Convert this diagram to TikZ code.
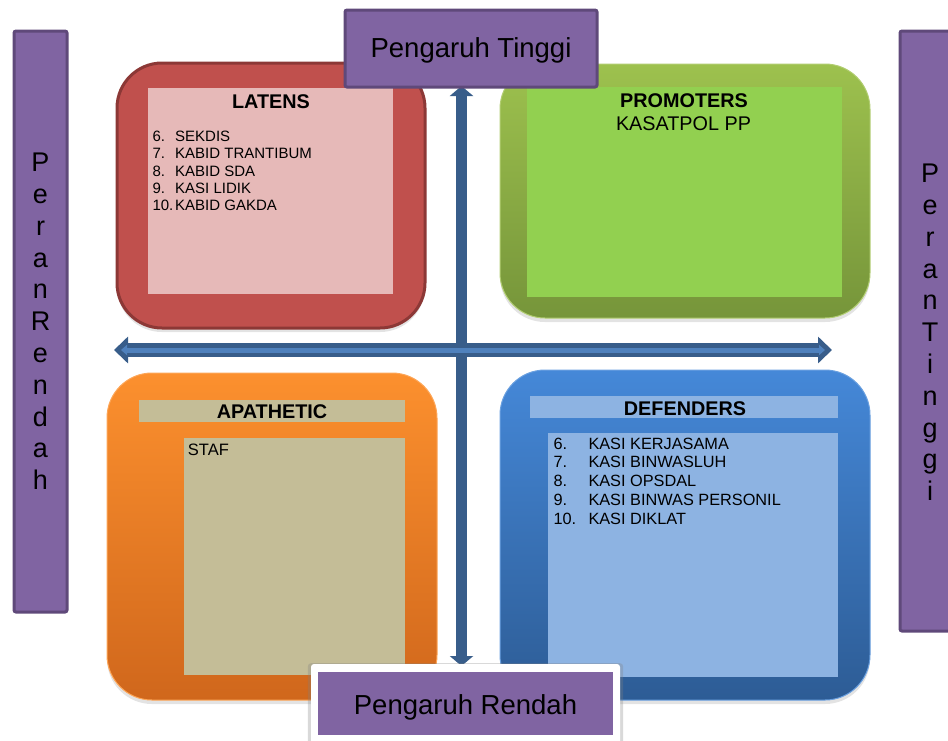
\documentclass[tikz,border=0pt]{standalone}
\usepackage{fontspec}
\setmainfont{Liberation Sans}
\usetikzlibrary{arrows.meta,shadows}
\definecolor{purp}{HTML}{8064A2}
\definecolor{purpdark}{HTML}{5F497A}
\definecolor{redq}{HTML}{C0504D}
\definecolor{reddark}{HTML}{8C3836}
\definecolor{redin}{HTML}{E6B9B8}
\definecolor{greentop}{HTML}{9DC14E}
\definecolor{greenbot}{HTML}{76953A}
\definecolor{greenin}{HTML}{92D050}
\definecolor{orangetop}{HTML}{FC902E}
\definecolor{orangebot}{HTML}{D0671C}
\definecolor{khaki}{HTML}{C4BD97}
\definecolor{bluetop}{HTML}{4588D8}
\definecolor{bluebot}{HTML}{2D5C95}
\definecolor{bluein}{HTML}{8DB3E2}
\definecolor{axisdark}{HTML}{385D8A}
\definecolor{axislight}{HTML}{4F81BD}
\begin{document}
\begin{tikzpicture}[x=1pt,y=-1pt,
  quadbox/.style={rounded corners=45pt, inner sep=0pt,
    drop shadow={opacity=0.22, shadow xshift=0pt, shadow yshift=-4pt}},
  panel/.style={inner sep=0pt},
  titletext/.style={font=\fontsize{19.8}{22}\selectfont\bfseries, inner sep=0pt, anchor=base},
  listtext/.style={inner sep=0pt, anchor=north west, align=left},
  labelbox/.style={fill=purp, draw=purpdark, line width=3pt, rounded corners=2pt, inner sep=0pt},
  bigtext/.style={font=\fontsize{27.5}{32}\selectfont, inner sep=0pt, anchor=base},
  sidetext/.style={font=\fontsize{27}{31.8}\selectfont, inner sep=0pt, anchor=north, align=center}
]
\useasboundingbox (0,0) rectangle (948,740);

% ---------- quadrants ----------
% LATENS
\node[quadbox, fill=redq, draw=reddark, line width=3pt,
  minimum width=308pt, minimum height=265pt] (latens) at (271,195.5) {};
\node[panel, fill=redin, minimum width=245pt, minimum height=206pt] (latensin) at (270.5,191) {};
\node[titletext] (latensT) at (271,108.3) {LATENS};
\node[listtext, font=\fontsize{15}{17.3}\selectfont] (latensL) at (152.3,131) {%
\makebox[22.7pt][l]{6.}SEKDIS\\
\makebox[22.7pt][l]{7.}KABID TRANTIBUM\\
\makebox[22.7pt][l]{8.}KABID SDA\\
\makebox[22.7pt][l]{9.}KASI LIDIK\\
\makebox[22.7pt][l]{10.}KABID GAKDA};

% PROMOTERS
\node[quadbox, top color=greentop, bottom color=greenbot, draw=greentop!80!white, line width=1pt,
  minimum width=370pt, minimum height=254pt] (prom) at (685,191) {};
\node[panel, fill=greenin, minimum width=315pt, minimum height=210pt] (promin) at (684.5,192) {};
\node[titletext] (promT) at (684,107.3) {PROMOTERS};
\node[bigtext, font=\fontsize{19.8}{22}\selectfont] (promL) at (683.5,130) {KASATPOL PP};

% APATHETIC
\node[quadbox, top color=orangetop, bottom color=orangebot, draw=orangetop!80!white, line width=1pt,
  minimum width=330pt, minimum height=327pt] (apat) at (272,536.5) {};
\node[panel, fill=khaki, minimum width=266pt, minimum height=22pt] (apathead) at (272,411) {};
\node[panel, fill=khaki, minimum width=221pt, minimum height=237pt] (apatin) at (294.5,556.5) {};
\node[titletext] (apatT) at (272,418.5) {APATHETIC};
\node[listtext, font=\fontsize{16.5}{19}\selectfont] (apatL) at (187.7,443.3) {STAF};

% DEFENDERS
\node[quadbox, top color=bluetop, bottom color=bluebot, draw=bluetop!80!white, line width=1pt,
  minimum width=370pt, minimum height=330pt] (def) at (685,535) {};
\node[panel, fill=bluein, minimum width=308pt, minimum height=22pt] (defhead) at (684,407) {};
\node[panel, fill=bluein, minimum width=290pt, minimum height=244pt] (defin) at (693,555) {};
\node[titletext] (defT) at (685,415) {DEFENDERS};
\node[listtext, font=\fontsize{16.3}{18.8}\selectfont] (defL) at (553.3,437.5) {%
\makebox[35pt][l]{6.}KASI KERJASAMA\\
\makebox[35pt][l]{7.}KASI BINWASLUH\\
\makebox[35pt][l]{8.}KASI OPSDAL\\
\makebox[35pt][l]{9.}KASI BINWAS PERSONIL\\
\makebox[35pt][l]{10.}KASI DIKLAT};

% ---------- axes ----------
\coordinate (vtop) at (461.5,86);
\coordinate (vbot) at (461.5,666);
\coordinate (hleft) at (114,350);
\coordinate (hright) at (832,350);
\coordinate (hileft) at (121,350);
\coordinate (hiright) at (825,350);
\draw[axisdark, line width=11pt,
  {Triangle[width=23pt,length=10pt]}-{Triangle[width=23pt,length=10pt]}] (vtop) -- (vbot);
\draw[axisdark, line width=14pt,
  {Triangle[width=26pt,length=14pt]}-{Triangle[width=26pt,length=14pt]}] (hleft) -- (hright);
\draw[axislight, line width=5pt,
  {Triangle[width=10pt,length=6pt]}-{Triangle[width=10pt,length=6pt]}] (hileft) -- (hiright);

% ---------- labels ----------
\node[labelbox, minimum width=252pt, minimum height=77pt] (top) at (471,48.5) {};
\node[bigtext] (topT) at (471,57.5) {Pengaruh Tinggi};

\node[fill=white, rounded corners=3pt, inner sep=0pt, minimum width=309pt, minimum height=80pt,
  drop shadow={opacity=0.3, shadow xshift=0pt, shadow yshift=0pt, shadow scale=1.02}] (botw) at (465.5,704) {};
\node[panel, fill=purp, minimum width=295pt, minimum height=63pt] (bot) at (465.5,703.5) {};
\node[bigtext] (botT) at (465.5,714.5) {Pengaruh Rendah};

\node[labelbox, minimum width=53pt, minimum height=581pt] (left) at (40.5,321.5) {};
\node[sidetext] (leftT) at (40.5,153) {P\\e\\r\\a\\n\\R\\e\\n\\d\\a\\h};

\node[labelbox, minimum width=53pt, minimum height=600pt] (right) at (926.5,331) {};
\node[sidetext] (rightT) at (930,164) {P\\e\\r\\a\\n\\T\\i\\n\\g\\g\\i};
\end{tikzpicture}
\end{document}
